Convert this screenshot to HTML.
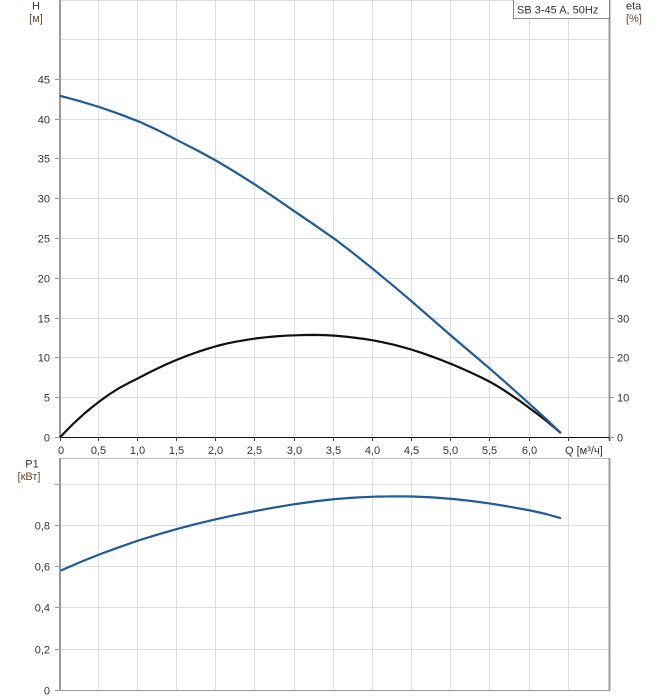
<!DOCTYPE html>
<html>
<head>
<meta charset="utf-8">
<style>
html,body{margin:0;padding:0;background:#fff;}
svg{display:block;}
text{font-family:"Liberation Sans","DejaVu Sans",sans-serif;font-size:11px;fill:#333;}
.u{fill:#6b4a2a;}
</style>
</head>
<body>
<svg width="658" height="700" viewBox="0 0 658 700" xmlns="http://www.w3.org/2000/svg">
<rect x="0" y="0" width="658" height="700" fill="#fff"/>

<!-- ===== TOP CHART GRID ===== -->
<g stroke="#dcdfe2" stroke-width="1" fill="none">
  <path d="M98.5 0V437 M137.5 0V437 M176.5 0V437 M215.5 0V437 M254.5 0V437 M294.5 0V437 M333.5 0V437 M372.5 0V437 M411.5 0V437 M450.5 0V437 M489.5 0V437 M529.5 0V437 M568.5 0V437"/>
  <path d="M60 397.5H609 M60 357.5H609 M60 318.5H609 M60 278.5H609 M60 238.5H609 M60 198.5H609 M60 158.5H609 M60 119.5H609 M60 79.5H609 M60 39.5H609 M60 0.5H609"/>
</g>

<!-- axes top -->
<g stroke="#9a9a9a" stroke-width="2" fill="none">
  <path d="M60 0V437"/>
  <path d="M609.5 0V441"/>
</g>
<g stroke="#999" stroke-width="1" fill="none">
  <path d="M55 437.5H60 M55 397.5H60 M55 357.5H60 M55 318.5H60 M55 278.5H60 M55 238.5H60 M55 198.5H60 M55 158.5H60 M55 119.5H60 M55 79.5H60"/>
  <path d="M609 437.5H614 M609 397.5H614 M609 357.5H614 M609 318.5H614 M609 278.5H614 M609 238.5H614 M609 198.5H614"/>
</g>
<!-- x axis -->
<path d="M60 437.5H609" stroke="#111" stroke-width="1"/>
<g stroke="#444" stroke-width="1">
  <path d="M60.5 437V441 M98.5 437V441 M137.5 437V441 M176.5 437V441 M215.5 437V441 M254.5 437V441 M294.5 437V441 M333.5 437V441 M372.5 437V441 M411.5 437V441 M450.5 437V441 M489.5 437V441 M529.5 437V441 M568.5 437V441 M609.5 437V441"/>
</g>

<!-- legend box -->
<rect x="513.5" y="-1" width="96" height="19.5" fill="#fff" stroke="#888" stroke-width="1"/>
<text x="517" y="13.5">SB 3-45 A, 50Hz</text>

<!-- axis titles -->
<text x="36" y="9.5" text-anchor="middle">H</text>
<text x="36" y="22" text-anchor="middle" class="u">[м]</text>
<text x="626" y="9.5">eta</text>
<text x="626" y="22" class="u">[%]</text>

<!-- left tick labels -->
<g text-anchor="end">
  <text x="50" y="441.5">0</text>
  <text x="50" y="401.5">5</text>
  <text x="50" y="361.5">10</text>
  <text x="50" y="322.5">15</text>
  <text x="50" y="282.5">20</text>
  <text x="50" y="242.5">25</text>
  <text x="50" y="202.5">30</text>
  <text x="50" y="162.5">35</text>
  <text x="50" y="123.5">40</text>
  <text x="50" y="83.5">45</text>
</g>
<!-- right tick labels -->
<g>
  <text x="617" y="441.5">0</text>
  <text x="617" y="401.5">10</text>
  <text x="617" y="361.5">20</text>
  <text x="617" y="322.5">30</text>
  <text x="617" y="282.5">40</text>
  <text x="617" y="242.5">50</text>
  <text x="617" y="202.5">60</text>
</g>
<!-- x tick labels -->
<g text-anchor="middle">
  <text x="61" y="454">0</text>
  <text x="98.5" y="454">0,5</text>
  <text x="137.5" y="454">1,0</text>
  <text x="176.5" y="454">1,5</text>
  <text x="215.5" y="454">2,0</text>
  <text x="254.5" y="454">2,5</text>
  <text x="294.5" y="454">3,0</text>
  <text x="333.5" y="454">3,5</text>
  <text x="372.5" y="454">4,0</text>
  <text x="411.5" y="454">4,5</text>
  <text x="450.5" y="454">5,0</text>
  <text x="489.5" y="454">5,5</text>
  <text x="529.5" y="454">6,0</text>
</g>
<text x="565" y="454">Q [м³/ч]</text>

<!-- eta curve (black) -->
<polyline fill="none" stroke="#111" stroke-width="2.2" stroke-linejoin="round" stroke-linecap="round"
 points="60.8,436.5 67.8,429.2 73.5,423.5 79.6,417.9 84.4,413.5 89.4,409.4 94.3,405.4 99.2,401.6 109,394.5 118.8,388.3 128.6,383.0 138.4,378.1 148.2,373.0 158,368.2 167.8,363.6 177.6,359.5 187.4,355.6 197.2,352.1 207,348.9 216.8,346.0 226.6,343.6 236.4,341.6 246.2,339.9 256,338.4 265.8,337.3 275.6,336.4 285.4,335.7 295.2,335.3 305,335.0 314.8,334.9 324.6,335.1 334.4,335.6 344.2,336.5 354,337.6 363.8,338.9 373.6,340.4 383.4,342.4 393.2,344.6 403,347.2 412.8,350.0 422.6,353.2 432.4,356.7 442.2,360.4 452,364.3 461.8,368.5 471.6,372.9 481.4,377.5 491.2,382.5 501,388.3 510.8,394.8 520.6,401.5 530.4,408.7 538.3,414.6 546.1,420.6 553.2,426.5 560.2,432.5"/>

<!-- H curve (blue) -->
<polyline fill="none" stroke="#1f5b97" stroke-width="2.2" stroke-linejoin="round" stroke-linecap="round"
 points="60.5,95.9 79.6,101.1 99.2,107.0 118.8,113.8 138.4,121.3 158,130.3 177.6,140.3 197.2,150.4 216.8,161.0 236.4,172.8 256,185.2 275.6,198.3 295.2,211.8 314.8,225.2 334.4,238.8 354,253.8 373.6,269.5 393.2,285.7 412.8,302.3 432.4,319.4 452,336.5 471.6,353.1 491.2,369.8 510.8,387.1 530.4,404.7 546.1,418.9 560.2,432.5"/>

<!-- ===== BOTTOM CHART ===== -->
<g stroke="#dcdfe2" stroke-width="1" fill="none">
  <path d="M98.5 458V690 M137.5 458V690 M176.5 458V690 M215.5 458V690 M254.5 458V690 M294.5 458V690 M333.5 458V690 M372.5 458V690 M411.5 458V690 M450.5 458V690 M489.5 458V690 M529.5 458V690 M568.5 458V690"/>
  <path d="M60 484.5H609 M60 525.5H609 M60 566.5H609 M60 607.5H609 M60 649.5H609"/>
</g>
<g stroke="#bbb" stroke-width="1" fill="none">
  <path d="M60 458.5H609"/>
</g>
<g stroke="#9a9a9a" stroke-width="2" fill="none">
  <path d="M60 458V691"/>
  <path d="M609.5 458V691"/>
</g>
<g stroke="#999" stroke-width="1" fill="none">
  <path d="M60 690.5H609"/>
  <path d="M55 484.5H60 M55 525.5H60 M55 566.5H60 M55 607.5H60 M55 649.5H60 M55 690.5H60"/>
</g>

<text x="32" y="467.3" text-anchor="middle">P1</text>
<text x="29" y="480" text-anchor="middle" class="u">[кВт]</text>

<g text-anchor="end">
  <text x="50" y="529.5">0,8</text>
  <text x="50" y="570.5">0,6</text>
  <text x="50" y="611.5">0,4</text>
  <text x="50" y="653.5">0,2</text>
  <text x="50" y="694.5">0</text>
</g>

<!-- P1 curve -->
<polyline fill="none" stroke="#1f5b97" stroke-width="2.2" stroke-linejoin="round" stroke-linecap="round"
 points="61.5,570.3 79.6,562.4 99.2,554.5 118.8,547.3 138.4,540.5 158,534.4 177.6,528.8 197.2,523.7 216.8,519.1 236.4,514.8 256,510.9 275.6,507.3 295.2,504.1 314.8,501.4 334.4,499.1 354,497.6 373.6,496.7 393.2,496.3 412.8,496.5 432.4,497.4 452,498.9 471.6,501.0 491.2,503.7 510.8,506.9 530.4,510.5 546.1,514.0 560.2,518.1"/>
</svg>
</body>
</html>
